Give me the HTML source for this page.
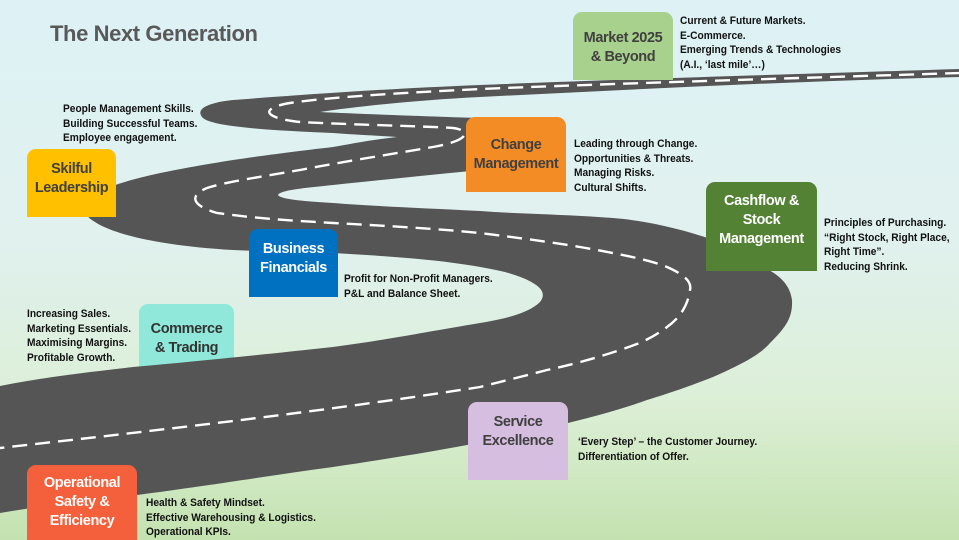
<!DOCTYPE html>
<html><head><meta charset="utf-8">
<style>
html,body{margin:0;padding:0;}
body{width:959px;height:540px;overflow:hidden;position:relative;font-family:"Liberation Sans",sans-serif;
background:linear-gradient(to bottom,#def2f6 0%,#e0f1ee 45%,#dcefd6 75%,#c4e2b0 100%);}
.t{position:absolute;left:50px;top:21px;font-size:22px;font-weight:bold;color:#595959;letter-spacing:-0.4px;}
.box{position:absolute;border-radius:9px 9px 0 0;font-weight:bold;font-size:14.5px;line-height:19px;text-align:center;box-sizing:border-box;letter-spacing:-0.4px;}
.d{position:absolute;font-weight:bold;font-size:11.2px;line-height:14.5px;color:#111;white-space:nowrap;transform:scaleX(0.91);transform-origin:0 0;}
svg{position:absolute;left:0;top:0;}
</style></head><body>
<div class="t">The Next Generation</div>

<div class="box" style="left:139px;top:304px;width:95px;height:70px;background:#8fe8d9;color:#333;padding-top:16px;">Commerce<br>&amp; Trading</div>

<svg width="959" height="540" viewBox="0 0 959 540">
<path fill="#555555" d="M960,69 C800,74 600,80 480,85 C380,89 300,95 233,100 C205,103 195,110 203,118 C212,126 260,130 333,133 C360,135 385,136 397,137 C370,140 350,144 333,147 C290,152 260,156 233,160 C170,170 120,180 100,192 C80,205 82,215 95,222 C110,232 150,245 233,250 C280,252 310,252 333,253 C420,258 460,262 505,272 C540,282 548,292 540,302 C530,312 510,318 480,323 C420,333 380,341 333,347 C250,356 190,362 133,367 C80,373 40,378 0,386 L0,513 C40,506 90,500 137,495 C220,484 280,474 333,467 C380,460 430,452 467,445 C500,437 540,430 568,423 C600,415 625,408 647,400 C680,390 700,382 713,377 C740,365 760,355 770,343 C785,328 793,318 792,300 C790,285 780,275 763,267 C745,255 730,246 713,240 C680,228 640,220 613,218 C560,214 520,214 480,211 C420,208 370,206 333,203 C300,201 280,199 278,195 C280,190 305,188 333,185 C390,179 440,174 480,170 C540,164 545,125 480,118 C420,116 360,114 320,112 C360,106 420,100 480,97 C640,89 800,81 960,77 Z"/>
<path fill="none" stroke="#ffffff" stroke-width="2.4" stroke-dasharray="15 8" d="M960,73 C800,78 600,84 480,89 C400,93 330,97 290,103 C260,108 262,118 300,122 C360,125 420,126 453,128 C470,130 472,140 433,147 C380,156 330,164 300,170 C260,177 225,182 207,188 C190,195 190,205 217,213 C260,219 300,221 333,223 C390,226 440,229 480,233 C520,238 550,242 580,247 C620,254 650,260 667,267 C685,275 692,282 690,290 C688,305 680,318 667,327 C650,340 635,345 620,350 C590,360 570,365 547,370 C520,377 500,382 480,387 C320,412 160,430 0,448"/>
</svg>

<div class="box" style="left:573px;top:12px;width:100px;height:68px;background:#a9d18e;color:#404040;padding-top:17px;">Market 2025<br>&amp; Beyond</div>
<div class="box" style="left:466px;top:117px;width:100px;height:75px;background:#f48c25;color:#404040;padding-top:19px;">Change<br>Management</div>
<div class="box" style="left:27px;top:149px;width:89px;height:68px;background:#ffc000;color:#404040;padding-top:11px;">Skilful<br>Leadership</div>
<div class="box" style="left:706px;top:182px;width:111px;height:89px;background:#538234;color:#fff;padding-top:10px;">Cashflow &amp;<br>Stock<br>Management</div>
<div class="box" style="left:249px;top:229px;width:89px;height:68px;background:#0070c0;color:#fff;padding-top:11px;">Business<br>Financials</div>
<div class="box" style="left:468px;top:402px;width:100px;height:78px;background:#d5bedf;color:#404040;padding-top:11px;">Service<br>Excellence</div>
<div class="box" style="left:27px;top:465px;width:110px;height:75px;background:#f45f3c;color:#fff;padding-top:9px;">Operational<br>Safety &amp;<br>Efficiency</div>

<div class="d" style="left:680px;top:14px;">Current &amp; Future Markets.<br>E-Commerce.<br>Emerging Trends &amp; Technologies<br>(A.I., ‘last mile’…)</div>
<div class="d" style="left:63px;top:102px;">People Management Skills.<br>Building Successful Teams.<br>Employee engagement.</div>
<div class="d" style="left:574px;top:137px;">Leading through Change.<br>Opportunities &amp; Threats.<br>Managing Risks.<br>Cultural Shifts.</div>
<div class="d" style="left:824px;top:216px;">Principles of Purchasing.<br>“Right Stock, Right Place,<br>Right Time”.<br>Reducing Shrink.</div>
<div class="d" style="left:344px;top:272px;">Profit for Non-Profit Managers.<br>P&amp;L and Balance Sheet.</div>
<div class="d" style="left:27px;top:307px;">Increasing Sales.<br>Marketing Essentials.<br>Maximising Margins.<br>Profitable Growth.</div>
<div class="d" style="left:578px;top:435px;">‘Every Step’ – the Customer Journey.<br>Differentiation of Offer.</div>
<div class="d" style="left:146px;top:496px;">Health &amp; Safety Mindset.<br>Effective Warehousing &amp; Logistics.<br>Operational KPIs.</div>
</body></html>
